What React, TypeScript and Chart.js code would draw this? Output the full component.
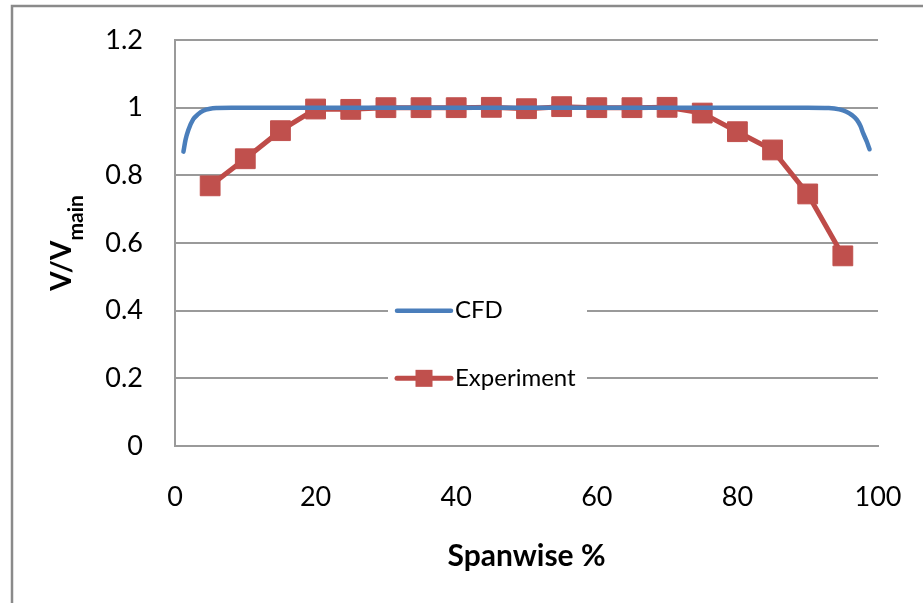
import React, { useEffect, useRef } from "react";
import { Chart, registerables } from "chart.js";

Chart.register(...registerables);

// ---- data ----
const seriesNames = ["CFD", "Experiment"];

const cfdX = [1.2, 1.5, 1.9, 2.6, 3.3, 4, 5, 6, 8, 10, 20, 30, 40, 50, 60, 70, 80, 90, 93, 94.5, 95.5, 96.3, 97, 97.5, 97.9, 98.4, 98.8];
const cfdY = [0.87, 0.905, 0.934, 0.966, 0.981, 0.991, 0.997, 0.999, 1.0, 1.0, 1.0, 1.0, 1.0, 1.0, 1.0, 1.0, 1.0, 1.0, 0.999, 0.995, 0.988, 0.978, 0.964, 0.946, 0.924, 0.9, 0.877];

const expX = [5, 10, 15, 20, 25, 30, 35, 40, 45, 50, 55, 60, 65, 70, 75, 80, 85, 90, 95];
const expY = [0.769, 0.849, 0.932, 0.996, 0.995, 1.0, 1.0, 1.0, 1.001, 0.997, 1.003, 1.0, 1.0, 1.001, 0.984, 0.929, 0.875, 0.745, 0.562];

const xTickValues = [0, 20, 40, 60, 80, 100];
const yTickValues = [0, 0.2, 0.4, 0.6, 0.8, 1, 1.2];
const yTickLabels = ["0", "0.2", "0.4", "0.6", "0.8", "1", "1.2"];

const xTitle = "Spanwise %";
const yTitleMain = "V/V";
const yTitleSub = "main";

const BLUE = "#4A7EBB";
const RED = "#BE4B48";
const RED_FILL = "#C0504D";
const GRID = "#9a9a9a";
const FONT = "Lato";

const zeroPad = (s: any) => {
  s.paddingTop = 0;
  s.paddingBottom = 0;
  s.paddingLeft = 0;
  s.paddingRight = 0;
};

const frameAndTitles = {
  id: "frameAndTitles",
  beforeDraw(chart: any) {
    const ctx = chart.ctx;
    ctx.save();
    ctx.fillStyle = "#ffffff";
    ctx.fillRect(0, 0, chart.width, chart.height);
    ctx.strokeStyle = "#8a8a8a";
    ctx.lineWidth = 2.5;
    ctx.beginPath();
    ctx.moveTo(12, chart.height + 5);
    ctx.lineTo(12, 6);
    ctx.lineTo(chart.width + 5, 6);
    ctx.stroke();
    ctx.restore();
  },
  afterDraw(chart: any) {
    const ctx = chart.ctx;
    const area = chart.chartArea;
    // y-axis title with subscript
    ctx.save();
    const cy = (area.top + area.bottom) / 2;
    ctx.translate(71, cy);
    ctx.rotate(-Math.PI / 2);
    ctx.fillStyle = "#000";
    ctx.textBaseline = "alphabetic";
    ctx.textAlign = "left";
    const mainFont = `bold 28px ${FONT}`;
    const subFont = `bold 21px ${FONT}`;
    ctx.font = mainFont;
    const w1 = ctx.measureText(yTitleMain).width;
    ctx.font = subFont;
    const w2 = ctx.measureText(yTitleSub).width;
    const start = -(w1 + w2) / 2;
    ctx.font = mainFont;
    ctx.fillText(yTitleMain, start, 0);
    ctx.font = subFont;
    ctx.fillText(yTitleSub, start + w1, 12);
    ctx.restore();

    // legend
    const ys = chart.scales.y;
    ctx.save();
    const y1 = ys.getPixelForValue(0.4);
    const y2 = ys.getPixelForValue(0.2);
    ctx.fillStyle = "#fff";
    ctx.fillRect(388, y1 - 30, 199, y2 - y1 + 60);
    const lx0 = 397;
    const lx1 = 451;
    ctx.lineCap = "round";
    ctx.strokeStyle = BLUE;
    ctx.lineWidth = 4.5;
    ctx.beginPath();
    ctx.moveTo(lx0, y1);
    ctx.lineTo(lx1, y1);
    ctx.stroke();
    ctx.strokeStyle = RED;
    ctx.lineWidth = 5;
    ctx.beginPath();
    ctx.moveTo(lx0, y2);
    ctx.lineTo(lx1, y2);
    ctx.stroke();
    ctx.fillStyle = RED_FILL;
    const ms = 17;
    ctx.fillRect((lx0 + lx1) / 2 - ms / 2, y2 - ms / 2, ms, ms);
    ctx.fillStyle = "#000";
    ctx.font = `24px ${FONT}`;
    ctx.textBaseline = "middle";
    ctx.textAlign = "left";
    ctx.fillText(seriesNames[0], 455, y1);
    ctx.fillText(seriesNames[1], 455, y2);
    ctx.restore();
  },
};

export default function App() {
  const ref = useRef<HTMLCanvasElement | null>(null);
  useEffect(() => {
    if (!ref.current) return;
    const chart = new Chart(ref.current, {
      type: "line",
      data: {
        datasets: [
          {
            label: seriesNames[0],
            data: cfdX.map((x, i) => ({ x, y: cfdY[i] })),
            borderColor: BLUE,
            borderWidth: 4.5,
            pointRadius: 0,
            cubicInterpolationMode: "monotone",
            borderCapStyle: "round",
            fill: false,
          },
          {
            label: seriesNames[1],
            data: expX.map((x, i) => ({ x, y: expY[i] })),
            borderColor: RED,
            borderWidth: 5,
            pointStyle: "rect",
            pointRadius: 14,
            pointBackgroundColor: RED_FILL,
            pointBorderColor: RED_FILL,
            pointBorderWidth: 1,
            tension: 0,
            fill: false,
          },
        ],
      },
      options: {
        animation: false,
        responsive: false,
        maintainAspectRatio: false,
        layout: { padding: { left: 0, top: 40, right: 45, bottom: 0 } },
        plugins: {
          legend: { display: false },
          tooltip: { enabled: false },
          title: { display: false },
        },
        scales: {
          x: {
            type: "linear",
            min: 0,
            max: 100,
            afterBuildTicks: (s: any) => {
              s.ticks = xTickValues.map((v) => ({ value: v }));
            },
            afterFit: (s: any) => {
              s.height = 157;
              zeroPad(s);
            },
            grid: { display: false, drawTicks: false },
            border: { display: true, color: GRID, width: 2 },
            ticks: {
              padding: 35,
              color: "#000",
              font: { family: FONT, size: 27 },
              maxRotation: 0,
            },
            title: {
              display: true,
              text: xTitle,
              color: "#000",
              font: { family: FONT, size: 30, weight: "bold" },
              padding: { top: 0, bottom: 29 },
            },
          },
          y: {
            type: "linear",
            min: 0,
            max: 1.2,
            afterBuildTicks: (s: any) => {
              s.ticks = yTickValues.map((v) => ({ value: v }));
            },
            afterFit: (s: any) => {
              s.width = 175;
              zeroPad(s);
            },
            grid: { color: GRID, lineWidth: 2, drawTicks: false },
            border: { display: true, color: GRID, width: 2 },
            ticks: {
              padding: 32,
              color: "#000",
              font: { family: FONT, size: 27 },
              callback: (v: any) => {
                const i = yTickValues.findIndex((t) => Math.abs(t - v) < 1e-9);
                return i >= 0 ? yTickLabels[i] : "";
              },
            },
          },
        },
      },
      plugins: [frameAndTitles],
    });
    return () => chart.destroy();
  }, []);
  return (
    <div style={{ position: "fixed", left: 0, top: 0, width: 923, height: 603, overflow: "hidden" }}>
      <canvas ref={ref} width={923} height={603} style={{ display: "block", width: 923, height: 603 }} />
    </div>
  );
}
